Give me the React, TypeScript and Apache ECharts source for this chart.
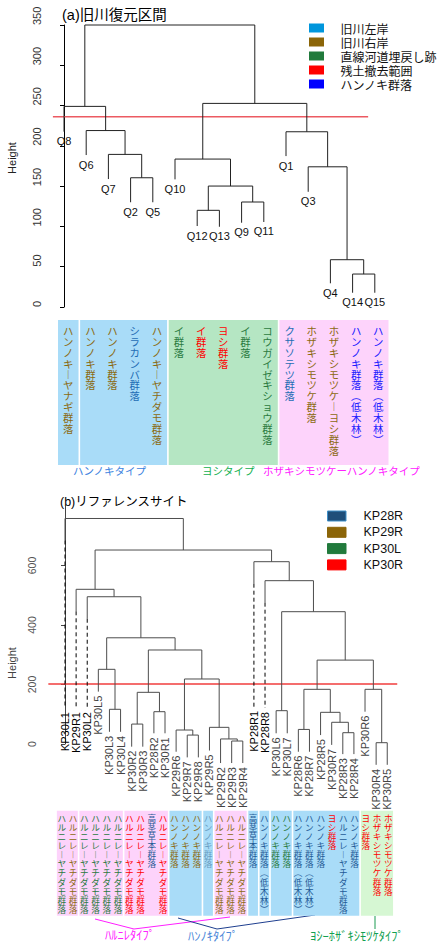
import React, { useEffect, useRef } from "react";
import * as echarts from "echarts";

// ---------------- (a) 旧川復元区間 ----------------
const titleA = "(a)旧川復元区間";
const leavesA = ["Q8", "Q6", "Q7", "Q2", "Q5", "Q10", "Q12", "Q13", "Q9", "Q11", "Q1", "Q3", "Q4", "Q14", "Q15"];
const leafEndA = [217.6, 188.6, 158.8, 130, 130, 158.4, 100.5, 99.6, 104.6, 105.5, 187.3, 143, 29.4, 17.7, 17.7];
// R-style merge table: negative = leaf position (1-based), positive = earlier merge row
const mergeA = [[-14, -15], [-13, 1], [-7, -8], [-9, -10], [3, 4], [-4, -5], [-12, 2], [-6, 5], [-3, 6], [-11, 7], [-2, 9], [-1, 11], [8, 10], [12, 13]];
const heightA = [40.9, 58.7, 120, 130.3, 150.1, 160.4, 174, 183.6, 189.4, 217.5, 219, 249, 252.7, 350];
const yAxisA = [0, 350, 50];
const cutA = 236;
const cutSpanA = [-0.5, 13.7];
const legendLabelsA = ["旧川左岸", "旧川右岸", "直線河道埋戻し跡", "残土撤去範囲", "ハンノキ群落"];
const legendColorsA = ["#0096dc", "#8b6508", "#217a3c", "#ff0000", "#0000ff"];
const textColorsA = ["#1f6db5", "#8b6a10", "#2a7a40", "#ff0000", "#2020ff"];
const colTextA = ["ハンノキーヤナギ群落", "ハンノキ群落", "ハンノキ群落", "シラカンバ群落", "ハンノキーヤチダモ群落", "イ群落", "イ群落", "ヨシ群落", "イ群落", "コウガイゼキショウ群落", "クサソテツ群落", "ホザキシモツケ群落", "ホザキシモツケーヨシ群落", "ハンノキ群落（低木林）", "ハンノキ群落（低木林）"];
const colSiteA = [1, 1, 1, 0, 1, 2, 3, 3, 2, 2, 0, 1, 1, 4, 4];
const boxBgA = ["#a9dcf8", "#b5e6c3", "#fdd3fb"];
const boxA = [[0, 0, 0], [1, 4, 0], [5, 9, 1], [10, 14, 2]];
const typeTextA = ["ハンノキタイプ", "ヨシタイプ", "ホザキシモツケーハンノキタイプ"];
const typeColorA = ["#3c82e0", "#12b050", "#ff20ff"];

// ---------------- (b) リファレンスサイト ----------------
const titleB = "(b)リファレンスサイト";
const leavesB = ["KP30L1", "KP29R1", "KP30L2", "KP30L5", "KP30L3", "KP30L4", "KP30R2", "KP30R3", "KP28R2", "KP30R1", "KP29R6", "KP29R7", "KP29R8", "KP29R5", "KP29R2", "KP29R3", "KP29R4", "KP28R1", "KP28R8", "KP30L6", "KP30L7", "KP28R6", "KP28R7", "KP28R5", "KP30R7", "KP28R3", "KP28R4", "KP30R6", "KP30R4", "KP30R5"];
const leafEndB = [121, 121, 121, 176, 41, 41, -9, -9, 36, 36, -26, -45, -45, -22, -64, -64, -64, 125, 121, 36, 36, -26, -26, 30, -3, -34, -34, 108.6, -70, -70];
const mergeB = [[-29, -30], [-16, -17], [-15, 2], [-12, -13], [-26, -27], [-11, 4], [-22, -23], [-14, 3], [-7, -8], [-25, 5], [-24, 10], [-9, -10], [-20, -21], [-5, -6], [9, 12], [7, 11], [-28, 1], [6, 8], [-4, 14], [16, 17], [15, 18], [19, 21], [13, 20], [-3, 22], [-2, 24], [-19, 23], [-18, 26], [25, 27], [-1, 28]];
const heightB = [4.4, 10, 17, 30, 38, 47, 49, 56, 67, 73, 106.5, 108.6, 112, 116.6, 173.7, 183.8, 183.8, 218.5, 251, 282, 316, 357, 444.7, 495, 520, 549, 612.8, 652, 758];
const dashedB = [0, 1, 2, 17, 18];
const yAxisB = [0, 800, 200];
const cutB = 202;
const cutSpanB = [-1.5, 29.9];
const legendLabelsB = ["KP28R", "KP29R", "KP30L", "KP30R"];
const legendColorsB = ["#1f4e79", "#8b6508", "#217a3c", "#ff0000"];
const textColorsB = ["#1f5a96", "#8b6a10", "#2a7a40", "#ff0000", "#6a9cc0"];
const colTextB = ["ハルニレーヤチダモ群落", "ハルニレーヤチダモ群落", "ハルニレーヤチダモ群落", "ハルニレーヤチダモ群落", "ハルニレーヤチダモ群落", "ハルニレーヤチダモ群落", "ハルニレーヤチダモ群落", "ハルニレーヤチダモ群落", "高茎草本群落", "ハルニレーヤチダモ群落", "ハンノキ群落", "ハンノキ群落", "ハンノキ群落", "ハンノキ群落", "ハルニレーヤチダモ群落", "ハルニレーヤチダモ群落", "ハルニレーヤチダモ群落", "高茎草本群落", "ハンノキ群落（低木林）", "ハンノキ群落", "ハンノキ群落", "ハンノキ群落（低木林）", "ハンノキ群落（低木林）", "ハンノキ群落", "ヨシ群落", "ハルニレーヤチダモ群落", "ハンノキ群落", "ヨシ群落", "ホザキシモツケ群落", "ホザキシモツケ群落"];
const colSiteB = [2, 1, 2, 2, 2, 2, 3, 3, 0, 3, 1, 1, 1, 4, 1, 1, 1, 0, 0, 2, 2, 0, 0, 0, 3, 0, 0, 3, 3, 3];
const boxBgB = ["#fdd3fb", "#a9dcf8", "#d6f7d3"];
const boxB = [[0, 1, 0], [2, 5, 0], [6, 9, 0], [10, 12, 1], [13, 13, 1], [14, 16, 0], [17, 17, 1], [18, 18, 1], [19, 20, 1], [21, 26, 1], [27, 29, 2]];
const typeTextB = ["ﾊﾙﾆﾚﾀｲﾌﾟ", "ﾊﾝﾉｷﾀｲﾌﾟ", "ﾖｼｰﾎｻﾞｷｼﾓﾂｹﾀｲﾌﾟ"];
const typeColorB = ["#ff20ff", "#4a86d8", "#12a050"];

const FONT_LATIN = "'Liberation Sans', Arial, sans-serif";
const FONT_JP = "'Noto Sans CJK JP', sans-serif";
const FONT_MIX = "'Liberation Sans', 'Noto Sans CJK JP', sans-serif";

// vertical writing: one character per line, with vertical presentation forms
const VERT_MAP: Record<string, string> = { "ー": "︱", "（": "︵", "）": "︶" };
function toVertical(text: string) {
  return Array.from(text).map((c) => VERT_MAP[c] || c).join("\n");
}

function buildSegments(merge: number[][], heights: number[], ends: number[], dashed: number[]) {
  const cx: number[] = [];
  const segs: number[][] = [];
  merge.forEach((pair, k) => {
    const h = heights[k];
    const xs = pair.map((r) => {
      if (r < 0) {
        const i = -r - 1;
        segs.push([i, h, i, ends[i], dashed.includes(i) ? 1 : 0]);
        return i;
      }
      const c = r - 1;
      segs.push([cx[c], h, cx[c], heights[c], 0]);
      return cx[c];
    });
    segs.push([xs[0], h, xs[1], h, 0]);
    cx[k] = (xs[0] + xs[1]) / 2;
  });
  return segs;
}

function txt(text: string, x: number, y: number, size: number, color: string, family: string, align = "left", valign = "middle", extra: any = {}, styleExtra: any = {}) {
  return {
    type: "text",
    x,
    y,
    ...extra,
    style: {
      text,
      fill: color,
      fontSize: size,
      fontFamily: family,
      align,
      verticalAlign: valign,
      textAlign: align,
      textVerticalAlign: valign,
      ...styleExtra,
    },
  };
}

function segSeries(segs: number[][], axis: number, color: string) {
  return {
    type: "custom",
    xAxisIndex: axis,
    yAxisIndex: axis,
    clip: false,
    silent: true,
    encode: { x: [0, 2], y: [1, 3] },
    data: segs,
    renderItem: (params: any, api: any) => {
      const p1 = api.coord([api.value(0), api.value(1)]);
      const p2 = api.coord([api.value(2), api.value(3)]);
      const style = { stroke: color, lineWidth: 1 };
      if (!api.value(4)) {
        return { type: "line", shape: { x1: p1[0], y1: p1[1], x2: p2[0], y2: p2[1] }, style };
      }
      const ySplit = p1[1] + 22;
      return {
        type: "group",
        children: [
          { type: "line", shape: { x1: p1[0], y1: p1[1], x2: p1[0], y2: ySplit }, style },
          { type: "line", shape: { x1: p1[0], y1: ySplit, x2: p2[0], y2: p2[1] }, style: { ...style, stroke: "#000", lineDash: [4, 3] } },
        ],
      };
    },
  };
}

function cutSeries(h: number, span: number[], axis: number, color: string, width: number) {
  return {
    type: "custom",
    xAxisIndex: axis,
    yAxisIndex: axis,
    clip: false,
    silent: true,
    data: [[span[0], h, span[1], h]],
    renderItem: (params: any, api: any) => {
      const p1 = api.coord([api.value(0), api.value(1)]);
      const p2 = api.coord([api.value(2), api.value(3)]);
      return { type: "line", shape: { x1: p1[0], y1: p1[1], x2: p2[0], y2: p2[1] }, style: { stroke: color, lineWidth: width } };
    },
  };
}

function boxSeries(boxes: number[][], bg: string[], axis: number) {
  return {
    type: "custom",
    xAxisIndex: axis,
    yAxisIndex: axis,
    clip: false,
    silent: true,
    data: boxes,
    renderItem: (params: any, api: any) => {
      const cs = params.coordSys;
      const x1 = api.coord([api.value(0) - 0.5, 0])[0] + 0.8;
      const x2 = api.coord([api.value(1) + 0.5, 0])[0] - 0.8;
      return { type: "rect", shape: { x: x1, y: cs.y, width: x2 - x1, height: cs.height }, style: { fill: bg[api.value(2)] } };
    },
  };
}

function columnSeries(texts: string[], sites: number[], colors: string[], axis: number, size: number, step: number, topPad: number) {
  return {
    type: "custom",
    xAxisIndex: axis,
    yAxisIndex: axis,
    clip: false,
    silent: true,
    data: texts.map((_, i) => [i, 0]),
    renderItem: (params: any, api: any) => {
      const cs = params.coordSys;
      const i = params.dataIndex;
      const x = api.coord([api.value(0), 0])[0];
      return txt(toVertical(texts[i]), x, cs.y + topPad, size, colors[sites[i]], FONT_JP, "center", "top", {}, { lineHeight: step });
    },
  };
}

function buildOption() {
  const segsA = buildSegments(mergeA, heightA, leafEndA, []);
  const segsB = buildSegments(mergeB, heightB, leafEndB, dashedB);

  const hiddenAxis = (grid: number, min: number, max: number) => ({ gridIndex: grid, type: "value", min, max, show: false });

  const graphics: any[] = [];
  graphics.push(txt(titleA, 62, 15, 14.5, "#000", FONT_MIX));
  graphics.push(txt(titleB, 60, 502, 12.5, "#000", FONT_MIX));
  graphics.push(txt("Height", 12, 158, 11, "#222", FONT_LATIN, "center", "middle", { rotation: Math.PI / 2 }));
  graphics.push(txt("Height", 12, 663, 11, "#444", FONT_LATIN, "center", "middle", { rotation: Math.PI / 2 }));
  legendLabelsA.forEach((l, i) => {
    const cy = 28 + i * 14;
    graphics.push({ type: "rect", shape: { x: 309, y: cy - 4.5, width: 15, height: 9 }, style: { fill: legendColorsA[i] } });
    graphics.push(txt(l, 340.5, cy, 12, "#111", FONT_JP));
  });
  legendLabelsB.forEach((l, i) => {
    const cy = 516 + i * 16.3;
    graphics.push({
      type: "rect",
      shape: { x: 327.5, y: cy - 5, width: 18.5, height: 10 },
      style: { fill: legendColorsB[i], stroke: i === 0 ? "#3f8fc8" : legendColorsB[i], lineWidth: 1 },
    });
    graphics.push(txt(l, 363.5, cy, 12.5, "#111", FONT_LATIN));
  });
  const typePosA = [[73, 470], [202, 470], [263, 470]];
  typeTextA.forEach((t, i) => graphics.push(txt(t, typePosA[i][0], typePosA[i][1], 10.5, typeColorA[i], FONT_JP)));
  const typePosB = [[105, 934], [188, 935], [310, 935]];
  typeTextB.forEach((t, i) => graphics.push(txt(t, typePosB[i][0], typePosB[i][1], 12.5, typeColorB[i], FONT_JP)));
  graphics.push({ type: "polyline", shape: { points: [[95, 919], [134, 929], [230, 917]] }, style: { stroke: "#ff20ff", lineWidth: 1, fill: null } });
  graphics.push({ type: "polyline", shape: { points: [[178, 918], [217, 929], [315, 915]] }, style: { stroke: "#1f3f8f", lineWidth: 1, fill: null } });
  graphics.push({ type: "line", shape: { x1: 375, y1: 916, x2: 375, y2: 929 }, style: { stroke: "#1a9a50", lineWidth: 1 } });

  return {
    animation: false,
    backgroundColor: "#ffffff",
    grid: [
      { left: 52.9, top: 25, width: 333, height: 282, containLabel: false },
      { left: 50.56, top: 506, width: 347.8, height: 238, containLabel: false },
      { left: 57.2, top: 320, width: 332.1, height: 145, containLabel: false },
      { left: 56.07, top: 810.7, width: 337.8, height: 105, containLabel: false },
    ],
    xAxis: [hiddenAxis(0, -0.5, 14.5), hiddenAxis(1, -1.3, 30), hiddenAxis(2, -0.5, 14.5), hiddenAxis(3, -0.5, 29.5)],
    yAxis: [
      {
        gridIndex: 0,
        type: "value",
        min: yAxisA[0],
        max: yAxisA[1],
        interval: yAxisA[2],
        axisLine: { show: true, lineStyle: { color: "#000", width: 1 } },
        axisTick: { show: true, length: 4, lineStyle: { color: "#000" } },
        axisLabel: { rotate: 90, align: "left", verticalAlign: "bottom", margin: 10, fontSize: 11, color: "#333", fontFamily: FONT_LATIN },
        splitLine: { show: false },
      },
      {
        gridIndex: 1,
        type: "value",
        min: yAxisB[0],
        max: yAxisB[1],
        interval: yAxisB[2],
        axisLine: { show: true, lineStyle: { color: "#444", width: 1 } },
        axisTick: { show: true, length: 4, lineStyle: { color: "#444" } },
        axisLabel: { rotate: 90, margin: 13, fontSize: 10.5, color: "#555", fontFamily: FONT_LATIN, showMaxLabel: false },
        splitLine: { show: false },
      },
      hiddenAxis(2, 0, 1),
      hiddenAxis(3, 0, 1),
    ],
    graphic: { elements: graphics },
    series: [
      boxSeries(boxA, boxBgA, 2),
      columnSeries(colTextA, colSiteA, textColorsA, 2, 10.4, 10.9, 5),
      boxSeries(boxB, boxBgB, 3),
      columnSeries(colTextB, colSiteB, textColorsB, 3, 8.6, 9.1, 2.6),
      cutSeries(cutA, cutSpanA, 0, "#ec5a62", 1.5),
      segSeries(segsA, 0, "#222"),
      {
        type: "custom",
        xAxisIndex: 0,
        yAxisIndex: 0,
        clip: false,
        silent: true,
        data: leavesA.map((_, i) => [i, leafEndA[i]]),
        renderItem: (params: any, api: any) => {
          const p = api.coord([api.value(0), api.value(1)]);
          return txt(leavesA[params.dataIndex], p[0], p[1] + 4, 11, "#111", FONT_LATIN, "center", "top");
        },
      },
      cutSeries(cutB, cutSpanB, 1, "#f03c3c", 1.5),
      segSeries(segsB, 1, "#4d4d4d"),
      {
        type: "custom",
        xAxisIndex: 1,
        yAxisIndex: 1,
        clip: false,
        silent: true,
        data: leavesB.map((_, i) => [i, leafEndB[i]]),
        renderItem: (params: any, api: any) => {
          const i = params.dataIndex;
          const p = api.coord([api.value(0), api.value(1)]);
          const dark = dashedB.includes(i);
          return txt(leavesB[i], p[0], p[1] + 4, 11, dark ? "#000" : "#444", FONT_LATIN, "right", "middle", { rotation: Math.PI / 2 });
        },
      },
    ],
  };
}

export default function App() {
  const ref = useRef<HTMLDivElement>(null);
  useEffect(() => {
    document.body.style.margin = "0";
    const chart = echarts.init(ref.current!, undefined, { renderer: "svg" });
    chart.setOption(buildOption() as any);
    return () => chart.dispose();
  }, []);
  return <div ref={ref} style={{ width: 439, height: 943 }} />;
}
